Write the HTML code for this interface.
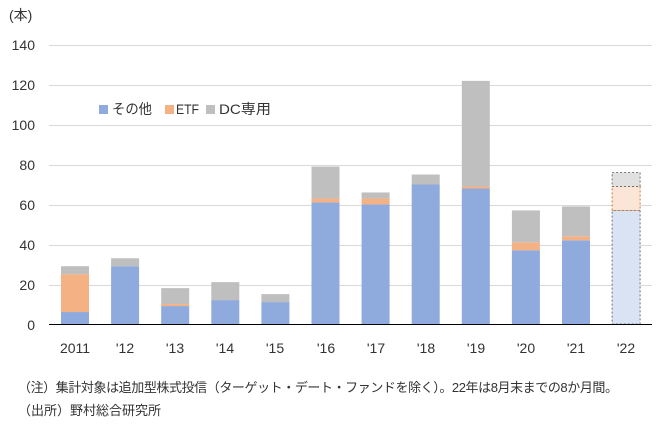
<!DOCTYPE html>
<html><head><meta charset="utf-8"><style>
body{margin:0;background:#fff;}
svg text{font-family:"Liberation Sans","Noto Sans CJK JP",sans-serif;fill:#333;}
</style></head><body>
<svg width="658" height="429" xmlns="http://www.w3.org/2000/svg">
<rect width="658" height="429" fill="#fff"/>
<text x="9" y="20" font-size="14">(本)</text>
<g stroke="#d9d9d9" stroke-width="1">
<line x1="49" x2="652" y1="45.5" y2="45.5"/><line x1="49" x2="652" y1="85.5" y2="85.5"/>
<line x1="49" x2="652" y1="125.5" y2="125.5"/><line x1="49" x2="652" y1="165.5" y2="165.5"/>
<line x1="49" x2="652" y1="205.5" y2="205.5"/><line x1="49" x2="652" y1="245.5" y2="245.5"/>
<line x1="49" x2="652" y1="285.5" y2="285.5"/>
</g>
<g font-size="14" text-anchor="end">
<text x="35" y="50">140</text><text x="35" y="90">120</text><text x="35" y="130">100</text>
<text x="35" y="170">80</text><text x="35" y="210">60</text><text x="35" y="250">40</text>
<text x="35" y="290">20</text><text x="35" y="330">0</text>
</g>
<g>
<rect x="61" y="312.04" width="28" height="11.96" fill="#8faadc"/><rect x="61" y="274.17" width="28" height="37.87" fill="#f4b183"/><rect x="61" y="266.2" width="28" height="7.97" fill="#bfbfbf"/>
<rect x="111.1" y="266.2" width="28" height="57.8" fill="#8faadc"/><rect x="111.1" y="258.23" width="28" height="7.97" fill="#bfbfbf"/>
<rect x="161.2" y="306.06" width="28" height="17.94" fill="#8faadc"/><rect x="161.2" y="304.07" width="28" height="1.99" fill="#f4b183"/><rect x="161.2" y="288.13" width="28" height="15.94" fill="#bfbfbf"/>
<rect x="211.3" y="300.08" width="28" height="23.92" fill="#8faadc"/><rect x="211.3" y="282.14" width="28" height="17.94" fill="#bfbfbf"/>
<rect x="261.4" y="302.08" width="28" height="21.92" fill="#8faadc"/><rect x="261.4" y="294.11" width="28" height="7.97" fill="#bfbfbf"/>
<rect x="311.5" y="202.43" width="28" height="121.57" fill="#8faadc"/><rect x="311.5" y="198.44" width="28" height="3.99" fill="#f4b183"/><rect x="311.5" y="166.55" width="28" height="31.89" fill="#bfbfbf"/>
<rect x="361.6" y="204.42" width="28" height="119.58" fill="#8faadc"/><rect x="361.6" y="198.44" width="28" height="5.98" fill="#f4b183"/><rect x="361.6" y="192.46" width="28" height="5.98" fill="#bfbfbf"/>
<rect x="411.7" y="184.49" width="28" height="139.51" fill="#8faadc"/><rect x="411.7" y="174.52" width="28" height="9.97" fill="#bfbfbf"/>
<rect x="461.8" y="188.48" width="28" height="135.52" fill="#8faadc"/><rect x="461.8" y="186.49" width="28" height="1.99" fill="#f4b183"/><rect x="461.8" y="80.86" width="28" height="105.63" fill="#bfbfbf"/>
<rect x="511.9" y="250.26" width="28" height="73.74" fill="#8faadc"/><rect x="511.9" y="242.29" width="28" height="7.97" fill="#f4b183"/><rect x="511.9" y="210.4" width="28" height="31.89" fill="#bfbfbf"/>
<rect x="562" y="240.29" width="28" height="83.71" fill="#8faadc"/><rect x="562" y="236.3" width="28" height="3.99" fill="#f4b183"/><rect x="562" y="206.4" width="28" height="29.9" fill="#bfbfbf"/>
<rect x="612.1" y="210.4" width="28" height="113.6" fill="#dae3f3" stroke="#44546a" stroke-dasharray="2,2" stroke-width="0.8"/>
<rect x="612.1" y="186.48" width="28" height="23.92" fill="#fbe5d6" stroke="#c55a11" stroke-dasharray="2,2" stroke-width="0.8"/>
<rect x="612.1" y="172.53" width="28" height="13.95" fill="#e0e0e0" stroke="#555" stroke-dasharray="2,2" stroke-width="0.8"/>
</g>
<line x1="49" x2="652" y1="324.5" y2="324.5" stroke="#000" stroke-width="1"/>
<g font-size="14" text-anchor="middle">
<text x="75" y="353">2011</text><text x="125" y="353">'12</text><text x="175" y="353">'13</text>
<text x="225" y="353">'14</text><text x="275" y="353">'15</text><text x="326" y="353">'16</text>
<text x="376" y="353">'17</text><text x="426" y="353">'18</text><text x="476" y="353">'19</text>
<text x="526" y="353">'20</text><text x="576" y="353">'21</text><text x="626" y="353">'22</text>
</g>
<rect x="99" y="105" width="9" height="9" fill="#8faadc"/>
<text x="112" y="114" font-size="14" textLength="40" lengthAdjust="spacingAndGlyphs">その他</text>
<rect x="165" y="105" width="9" height="9" fill="#f4b183"/>
<text x="176" y="114" font-size="14" textLength="23" lengthAdjust="spacingAndGlyphs">ETF</text>
<rect x="206" y="105" width="9" height="9" fill="#bfbfbf"/>
<text x="219" y="114" font-size="14" textLength="52" lengthAdjust="spacingAndGlyphs">DC専用</text>
<text x="18" y="392" font-size="13" textLength="600">（注）集計対象は追加型株式投信（ターゲット・デート・ファンドを除く）。22年は8月末までの8か月間。</text>
<text x="18" y="415" font-size="13">（出所）野村総合研究所</text>
</svg>
</body></html>
